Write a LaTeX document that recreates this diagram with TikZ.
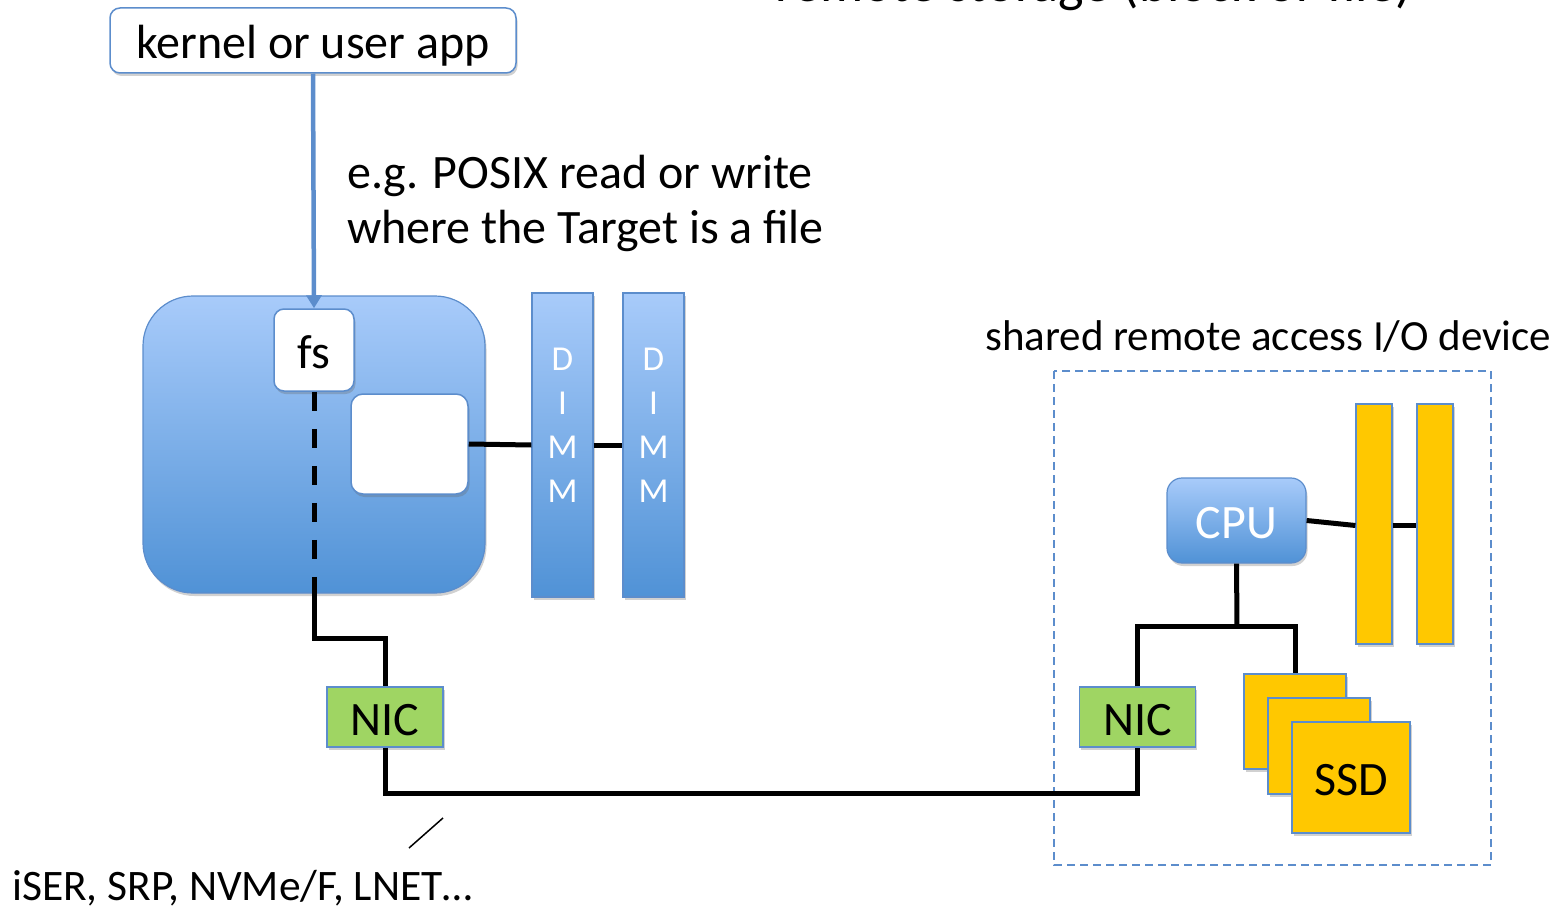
\documentclass[tikz,border=0pt]{standalone}
\usepackage{fontspec}
\setmainfont{Carlito}
\usetikzlibrary{shadows,arrows.meta,calc}

\definecolor{edgeblue}{RGB}{92,141,204}
\definecolor{gradtop}{RGB}{168,203,250}
\definecolor{gradbot}{RGB}{80,146,214}
\definecolor{nicgreen}{RGB}{159,213,99}
\definecolor{ssdyellow}{RGB}{255,200,0}

\tikzset{
  softshadow/.style={drop shadow={shadow xshift=1.5pt, shadow yshift=-3pt, opacity=0.3, fill=black!60}},
  txt/.style={font=\fontsize{48}{55}\selectfont, inner sep=0pt},
  boxtxt/.style={txt, text height=48pt, text depth=12pt},
  plainbox/.style={draw=edgeblue, line width=1.5pt, fill=white, rounded corners=#1, softshadow, inner sep=0pt},
  bluebox/.style={draw=edgeblue, line width=1.2pt, top color=gradtop, bottom color=gradbot, softshadow, inner sep=0pt},
  dimmbar/.style={bluebox, minimum width=61pt, minimum height=304pt},
  dimmtext/.style={font=\fontsize{35}{44}\selectfont, text=white, align=center, inner sep=0pt},
  nicbox/.style={draw=edgeblue, line width=1.2pt, fill=nicgreen, softshadow, inner sep=0pt,
                 minimum width=116pt, minimum height=60pt, boxtxt},
  yellowbox/.style={draw=edgeblue, line width=1.2pt, fill=ssdyellow, softshadow, inner sep=0pt},
  wire/.style={line width=5pt, black},
  callarrow/.style={line width=4.5pt, edgeblue, -{Triangle[length=13pt,width=15pt]}},
  devframe/.style={draw=edgeblue, line width=1.5pt, dash pattern=on 8pt off 5pt}
}

\begin{document}
\begin{tikzpicture}[x=1pt,y=-1pt]
\useasboundingbox (0,0) rectangle (1558,907);

% heading running off the top edge
\node[txt, font=\fontsize{54}{60}\selectfont, anchor=base west] (title) at (775,2) {remote storage (block or file)};

% caller
\node[plainbox=10, minimum width=406pt, minimum height=65pt, boxtxt] (app) at (313,40.5) {kernel or user app};

% annotation of the call
\node[txt, anchor=base west] (posixA) at (347,188) {e.g. POSIX read or write};
\node[txt, anchor=base west] (posixB) at (347,243) {where the Target is a file};

% local host
\node[bluebox, rounded corners=50pt, minimum width=342pt, minimum height=297pt] (host) at (314,444.5) {};
\node[plainbox=10, minimum width=80pt, minimum height=82pt, boxtxt] (fs) at (314,350) {fs};
\node[plainbox=12, minimum width=117pt, minimum height=100pt] (mem) at (409.5,444) {};

\node[dimmbar] (dimmA) at (562.5,445) {};
\node[dimmbar] (dimmB) at (653.5,445) {};
\node[dimmtext] (dimmAtxt) at ([yshift=20pt]dimmA.center) {D\\I\\M\\M};
\node[dimmtext] (dimmBtxt) at ([yshift=20pt]dimmB.center) {D\\I\\M\\M};

\node[nicbox] (nicL) at (385,717) {NIC};

% remote device
\draw[devframe] (1054,371) rectangle (1491,865);
\node[txt, font=\fontsize{43}{50}\selectfont, anchor=base west] (devlabel) at (985,350) {shared remote access I/O device};

\node[bluebox, rounded corners=15pt, minimum width=139pt, minimum height=85pt, boxtxt, text=white] (cpu) at (1236.5,520.5) {CPU};
\node[yellowbox, minimum width=36pt, minimum height=240pt] (barA) at (1374,524) {};
\node[yellowbox, minimum width=36pt, minimum height=240pt] (barB) at (1435,524) {};

\node[nicbox] (nicR) at (1137.5,717) {NIC};

\node[yellowbox, minimum width=102pt, minimum height=95pt] (ssdA) at (1295,721.5) {};
\node[yellowbox, minimum width=102pt, minimum height=96pt] (ssdB) at (1319,746) {};
\node[yellowbox, minimum width=118pt, minimum height=111pt, boxtxt] (ssdC) at (1351,777.5) {SSD};

% protocol label
\node[txt, font=\fontsize{43.5}{50}\selectfont, anchor=base west] (proto) at (12,900) {iSER, SRP, NVMe/F, LNET…};
\coordinate (tickA) at (409,848);
\coordinate (tickB) at (443,818);
\draw[line width=1.5pt] (tickA) -- (tickB);

% connectors
\draw[callarrow] (app.south) -- (fs.north);
\draw[wire, dash pattern=on 19pt off 18pt] (fs.south) -- (host.south);
\coordinate (bendL) at (314,638);
\draw[wire] (host.south) -- (bendL) -| (nicL.north);
\draw[wire] (mem.east) -- (dimmA.west);
\draw[wire] (dimmA.east) -- (dimmB.west);
\coordinate (linkL) at (385,793);
\draw[wire] (nicL.south) -- (linkL) -| (nicR.south);

\draw[wire] (cpu.east) -- ([yshift=-1.5pt]barA.west);
\draw[wire] ([yshift=-1.5pt]barA.east) -- ([yshift=-1.5pt]barB.west);
\coordinate (fork) at (1237,626);
\draw[wire] (cpu.south) -- (fork);
\draw[wire] (nicR.north) |- (fork) -| (ssdA.north);
\end{tikzpicture}
\end{document}
